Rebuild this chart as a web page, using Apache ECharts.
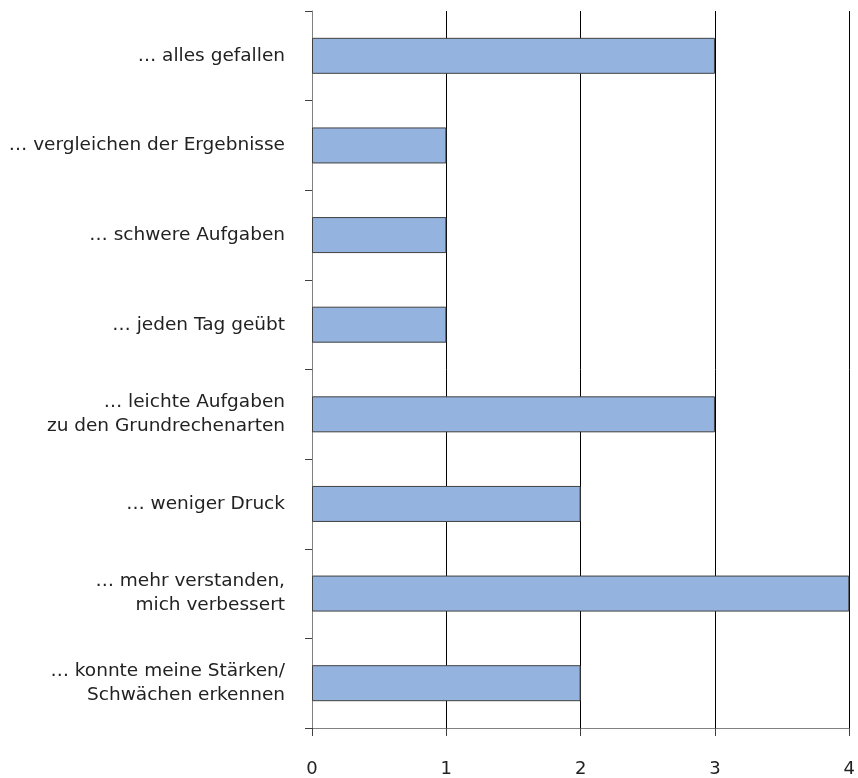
<!DOCTYPE html>
<html>
<head>
<meta charset="utf-8">
<script src="https://cdn.jsdelivr.net/npm/echarts@6/dist/echarts.min.js"></script>
<style>html,body{margin:0;padding:0;background:#fff}#c{width:858px;height:778px}</style>
</head>
<body>
<div id="c"></div>
<script>
const categories = [
  "… alles gefallen",
  "… vergleichen der Ergebnisse",
  "… schwere Aufgaben",
  "… jeden Tag geübt",
  "… leichte Aufgaben\nzu den Grundrechenarten",
  "… weniger Druck",
  "… mehr verstanden,\nmich verbessert",
  "… konnte meine Stärken/\nSchwächen erkennen"
];
const values = [3, 1, 1, 1, 3, 2, 4, 2];
const xTicks = [0, 1, 2, 3, 4];

const chart = echarts.init(document.getElementById('c'), null, {renderer: 'canvas'});
chart.setOption({
  animation: false,
  backgroundColor: '#fff',
  grid: {left: 312, right: 5, top: 11, bottom: 50, containLabel: false},
  xAxis: {
    type: 'value',
    min: xTicks[0],
    max: xTicks[xTicks.length - 1],
    interval: 1,
    axisLine: {show: true, lineStyle: {color: '#808080', width: 1}},
    axisTick: {show: true, length: 8, lineStyle: {color: '#404040'}},
    axisLabel: {margin: 32, color: '#222', fontSize: 18, fontFamily: 'DejaVu Sans',
      formatter: v => String(v)},
    splitLine: {show: true, lineStyle: {color: '#000', width: 1}}
  },
  yAxis: {
    type: 'category',
    data: categories,
    inverse: true,
    axisLine: {show: true, lineStyle: {color: '#808080', width: 1}},
    axisTick: {show: true, length: 7, alignWithLabel: false, lineStyle: {color: '#404040'}},
    axisLabel: {margin: 27, color: '#222', fontSize: 18.5, fontFamily: 'DejaVu Sans',
      lineHeight: 24, align: 'right'},
    splitLine: {show: false}
  },
  series: [{
    type: 'bar',
    data: values,
    barWidth: 36,
    itemStyle: {color: '#94B3DE', borderColor: '#404040', borderWidth: 1}
  }]
});
</script>
</body>
</html>
